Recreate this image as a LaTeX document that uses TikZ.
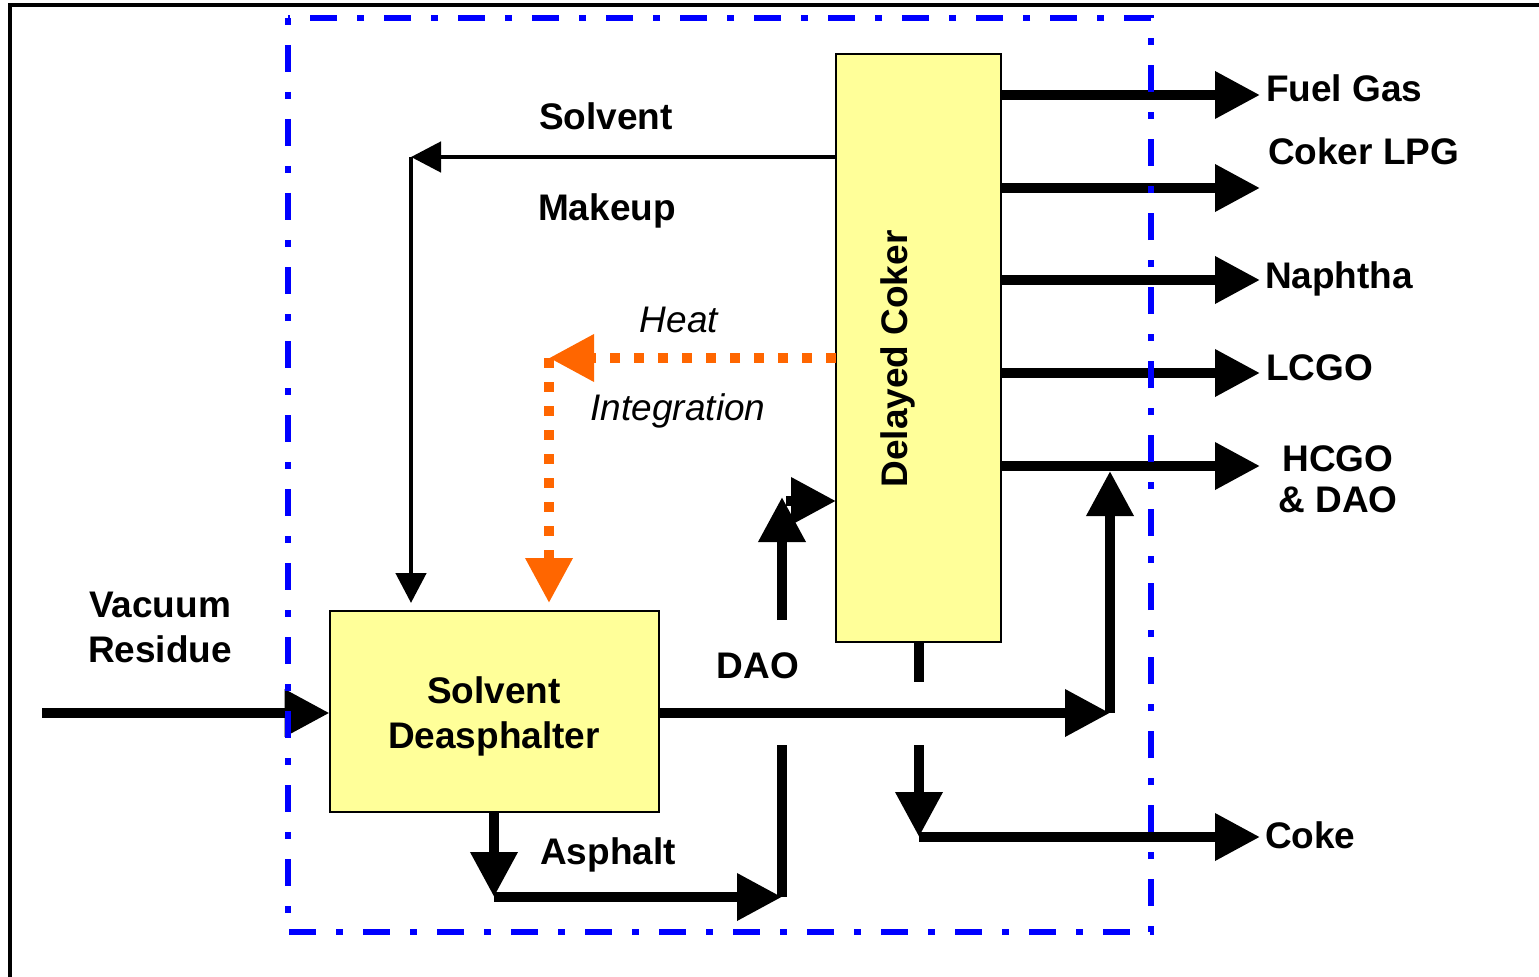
\documentclass[tikz,border=0pt]{standalone}
\usepackage{fontspec}
\setmainfont{Liberation Sans}
\usetikzlibrary{arrows.meta}
\definecolor{boxyellow}{HTML}{FFFF99}
\definecolor{heatorange}{HTML}{FF6600}
\definecolor{zoneblue}{HTML}{0000FF}
\begin{document}
\begin{tikzpicture}[x=0.75pt,y=-0.75pt,
  lbl/.style={font=\fontsize{27.75}{33.75}\selectfont\bfseries, inner sep=0pt, outer sep=0pt},
  itl/.style={font=\fontsize{27.75}{33.75}\selectfont\itshape, inner sep=0pt, outer sep=0pt},
  unit/.style={draw=black, fill=boxyellow, line width=1.5pt, inner sep=0pt, outer sep=0pt},
  flow/.style={line width=7.5pt, -{Triangle[length=33.75pt,width=33.75pt]}},
  pipe/.style={line width=7.5pt},
  thinflow/.style={line width=3.6pt, -{Triangle[length=22.5pt,width=22.5pt]}},
  heatflow/.style={draw=heatorange, line width=7.5pt, dash pattern=on 7.5pt off 10.5pt, -{Triangle[length=33.75pt,width=33.75pt,fill=heatorange]}},
  zone/.style={draw=zoneblue, line width=4.5pt, dash pattern=on 5.25pt off 15pt on 20.25pt off 15pt}
]
\useasboundingbox (0,0) rectangle (1539,977);
% outer frame (only left and top edges visible)
\draw[line width=3pt] (9.5,977) -- (9.5,5.3) -- (1539,5.3);

% units
\node[unit, minimum width=246.75pt, minimum height=150.75pt] (sda) at (494,711.5) {};
\node[lbl, align=center] (sdat) at (494,716) {Solvent\\Deasphalter};
\node[unit, minimum width=123.75pt, minimum height=441pt] (coker) at (918.5,348) {};
\node[lbl, rotate=90, anchor=base] (cokert) at (907,359) {Delayed Coker};

% feed
\coordinate (vrin) at (42,713);
\draw[flow] (vrin) -- (sda.west |- vrin);
\node[lbl, align=center] (vrl) at (160,627) {Vacuum\\Residue};

% solvent makeup
\coordinate (sm) at (411,157);
\draw[thinflow] (coker.west |- sm) -- (sm);
\draw[thinflow, shorten >=6pt] (sm) -- (sm |- sda.north);
\node[lbl, anchor=base] (sml1) at (606,130) {Solvent};
\node[lbl, anchor=base] (sml2) at (607,220) {Makeup};

% heat integration
\coordinate (hc) at (549,358);
\draw[heatflow] (coker.west |- hc) -- (hc);
\draw[heatflow, shorten >=6pt] (hc) -- (hc |- sda.north);
\node[itl, anchor=base] (hil1) at (679,332) {Heat};
\node[itl, anchor=base] (hil2) at (678,420) {Integration};

% coker products
\coordinate (fg) at (1260,95);
\coordinate (lpg) at (1260,188);
\coordinate (nap) at (1260,280);
\coordinate (lcgo) at (1260,373);
\coordinate (hcgo) at (1260,466);
\draw[flow] (coker.east |- fg) -- (fg);
\draw[flow] (coker.east |- lpg) -- (lpg);
\draw[flow] (coker.east |- nap) -- (nap);
\draw[flow] (coker.east |- lcgo) -- (lcgo);
\draw[flow] (coker.east |- hcgo) -- (hcgo);
\node[lbl, anchor=base west] (fgl) at (1266,102) {Fuel Gas};
\node[lbl, anchor=base west] (lpgl) at (1268,165) {Coker LPG};
\node[lbl, anchor=base west] (napl) at (1265,288) {Naphtha};
\node[lbl, anchor=base west] (lcgol) at (1266,380) {LCGO};
\node[lbl, align=center, font=\fontsize{27.75}{30.75}\selectfont\bfseries] (hcgol) at (1338,479) {HCGO\\\& DAO};

% DAO
\coordinate (dj) at (1110,713);
\coordinate (dt) at (1110,471);
\draw[flow] (sda.east |- dj) -- (dj);
\draw[flow] (dj) -- (dt);
\node[lbl, anchor=base] (daol) at (758,678) {DAO};

% asphalt
\coordinate (aj) at (494,897);
\coordinate (ak) at (782,897);
\coordinate (ab1) at (782,745);
\coordinate (ab2) at (782,620);
\coordinate (au) at (782,497);
\coordinate (ar) at (786,501);
\draw[flow] (sda.south) -- (aj);
\draw[flow] (aj) -- (ak);
\draw[pipe] (ak) -- (ab1);
\draw[flow] (ab2) -- (au);
\draw[flow] (ar) -- (coker.west |- ar);
\node[lbl, anchor=base] (asl) at (608,864) {Asphalt};

% coke
\coordinate (ck1) at (919,682);
\coordinate (ck2) at (919,745);
\coordinate (ck3) at (919,837);
\coordinate (ckout) at (1260,837);
\draw[pipe] (coker.south -| ck1) -- (ck1);
\draw[flow] (ck2) -- (ck3);
\draw[flow] (ck3) -- (ckout);
\node[lbl, anchor=base west] (ckl) at (1265,848) {Coke};

% battery limit
\draw[zone] (288,18) rectangle (1151,932);
\end{tikzpicture}
\end{document}
